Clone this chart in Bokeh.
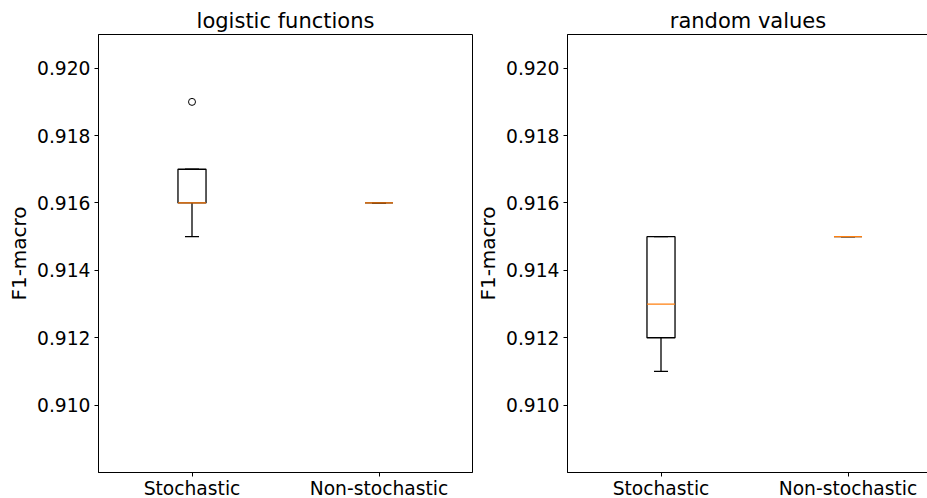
from bokeh.plotting import figure
from bokeh.models import ColumnDataSource, Range1d, FixedTicker, NumeralTickFormatter
from bokeh.layouts import row
from bokeh.embed import file_html
from bokeh.resources import INLINE

# ---- data ----
categories = ["Stochastic", "Non-stochastic"]
positions = [1, 2]
y_ticks = [0.910, 0.912, 0.914, 0.916, 0.918, 0.920]

titles = ["logistic functions", "random values"]

logistic_low = [0.915, 0.916]
logistic_q1 = [0.916, 0.916]
logistic_median = [0.916, 0.916]
logistic_q3 = [0.917, 0.916]
logistic_high = [0.917, 0.916]
logistic_outlier_pos = [1]
logistic_outlier_val = [0.919]

random_low = [0.911, 0.915]
random_q1 = [0.912, 0.915]
random_median = [0.913, 0.915]
random_q3 = [0.915, 0.915]
random_high = [0.915, 0.915]
random_outlier_pos = []
random_outlier_val = []

FONT = "DejaVu Sans"
BOX_W = 0.15
CAP_W = 0.075
ORANGE = "#ff7f0e"
LW = 1.3


def make_panel(title, low, q1, med, q3, high, opos, oval,
               x_end, min_left, min_right, title_offset):
    p = figure(output_backend="svg", toolbar_location=None,
               x_range=Range1d(0.5, x_end), y_range=Range1d(0.908, 0.921),
               min_border_left=min_left, min_border_right=min_right,
               min_border_top=34, min_border_bottom=26,
               title=title)
    p.grid.visible = False
    p.background_fill_color = "white"
    p.border_fill_color = "white"
    p.outline_line_color = "black"
    p.outline_line_width = 1

    p.title.text_font = FONT
    p.title.text_font_size = "21px"
    p.title.text_font_style = "normal"
    p.title.text_color = "black"
    p.title.align = "center"
    p.title.standoff = 3
    p.title.offset = title_offset

    xa = p.xaxis[0]
    xa.ticker = FixedTicker(ticks=positions)
    xa.major_label_overrides = {pp: c for pp, c in zip(positions, categories)}
    ya = p.yaxis[0]
    ya.ticker = FixedTicker(ticks=y_ticks)
    ya.formatter = NumeralTickFormatter(format="0.000")
    ya.axis_label = "F1-macro"
    ya.axis_label_text_font = FONT
    ya.axis_label_text_font_size = "20px"
    ya.axis_label_text_font_style = "normal"
    ya.axis_label_text_color = "black"
    ya.axis_label_standoff = 3
    for ax in (xa, ya):
        ax.major_label_text_font = FONT
        ax.major_label_text_font_size = "18.7px"
        ax.major_label_text_color = "black"
        ax.major_tick_out = 4
        ax.major_tick_in = 0
        ax.minor_tick_out = 0
        ax.minor_tick_in = 0
        ax.major_tick_line_color = "black"
        ax.axis_line_color = "black"
    xa.major_label_standoff = 1
    ya.major_label_standoff = 4

    src = ColumnDataSource(dict(
        x=positions, low=low, q1=q1, med=med, q3=q3, high=high,
        left=[v - BOX_W / 2 for v in positions],
        right=[v + BOX_W / 2 for v in positions],
        cl=[v - CAP_W / 2 for v in positions],
        cr=[v + CAP_W / 2 for v in positions],
    ))
    # whiskers
    p.segment(x0="x", y0="q1", x1="x", y1="low", source=src, line_color="black", line_width=LW)
    p.segment(x0="x", y0="q3", x1="x", y1="high", source=src, line_color="black", line_width=LW)
    # caps
    p.segment(x0="cl", y0="low", x1="cr", y1="low", source=src, line_color="black", line_width=LW)
    p.segment(x0="cl", y0="high", x1="cr", y1="high", source=src, line_color="black", line_width=LW)
    # boxes
    p.quad(left="left", right="right", bottom="q1", top="q3", source=src,
           fill_color=None, line_color="black", line_width=LW)
    # medians
    p.segment(x0="left", y0="med", x1="right", y1="med", source=src, line_color=ORANGE, line_width=LW)
    # outliers
    if opos:
        osrc = ColumnDataSource(dict(x=opos, y=oval))
        p.scatter(x="x", y="y", source=osrc, marker="circle", size=7,
                  fill_color=None, line_color="black", line_width=1)
    return p


FRAME_W = 374
FRAME_H = 438
right_frame_w = 927 - 566
p1 = make_panel(titles[0], logistic_low, logistic_q1, logistic_median, logistic_q3,
                logistic_high, logistic_outlier_pos, logistic_outlier_val,
                2.5, 98, 1, 0)
p1.frame_width = FRAME_W
p1.frame_height = FRAME_H

p2 = make_panel(titles[1], random_low, random_q1, random_median, random_q3,
                random_high, random_outlier_pos, random_outlier_val,
                0.5 + 2 * right_frame_w / FRAME_W, 93, 0, 6)
p2.frame_width = right_frame_w
p2.frame_height = FRAME_H

layout = row(p1, p2)
open("out.html", "w").write(file_html(layout, INLINE))
